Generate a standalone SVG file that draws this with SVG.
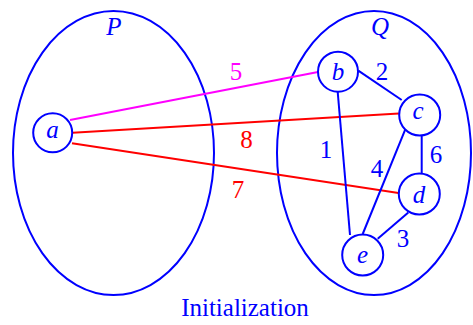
<svg xmlns="http://www.w3.org/2000/svg" width="473" height="325" viewBox="0 0 473 325">
<style>
.set{fill:none;stroke:#0000ff;stroke-width:2}
.node circle{fill:#ffffff;stroke:#0000ff;stroke-width:2}
.lbl{font-family:"Liberation Serif",serif;font-style:italic;font-size:25px;fill:#0000ff;text-anchor:middle}
.w{font-family:"Liberation Serif",serif;font-size:25px;text-anchor:middle}
.blue{fill:#0000ff}.red{fill:#ff0000}.mag{fill:#ff00ff}
.e{stroke-width:2;fill:none}
.eb{stroke:#0000ff}.er{stroke:#ff0000}.em{stroke:#ff00ff}
</style>
<rect width="473" height="325" fill="#ffffff"/>
<g id="setP"><ellipse class="set" cx="113.5" cy="153" rx="100.5" ry="142"/><text class="lbl" x="114" y="35">P</text></g>
<g id="setQ"><ellipse class="set" cx="374" cy="153" rx="97" ry="142"/><text class="lbl" x="380" y="35">Q</text></g>
<g id="connectors">
<line class="e em" x1="70" y1="120" x2="318" y2="72"/>
<line class="e er" x1="72.5" y1="132.7" x2="399" y2="113.5"/>
<line class="e er" x1="72" y1="143.3" x2="398.5" y2="193"/>
<line class="e eb" x1="358.3" y1="70.7" x2="401.7" y2="100"/>
<line class="e eb" x1="337.7" y1="92" x2="350" y2="235"/>
<line class="e eb" x1="405.7" y1="128.3" x2="362.7" y2="234"/>
<line class="e eb" x1="421.7" y1="134" x2="421.7" y2="174"/>
<line class="e eb" x1="408.3" y1="212.5" x2="377.7" y2="238.7"/>
<text class="w mag" x="236" y="80">5</text>
<text class="w red" x="246.5" y="148">8</text>
<text class="w red" x="238" y="198">7</text>
<text class="w blue" x="382" y="80">2</text>
<text class="w blue" x="326" y="158">1</text>
<text class="w blue" x="377" y="177">4</text>
<text class="w blue" x="436" y="163">6</text>
<text class="w blue" x="403" y="247">3</text>
</g>
<g id="node-a" class="node"><circle cx="52.7" cy="132.8" r="19.5"/><text class="lbl" x="52.5" y="138">a</text></g>
<g id="node-b" class="node"><circle cx="338" cy="71.7" r="20"/><text class="lbl" x="338" y="80">b</text></g>
<g id="node-c" class="node"><circle cx="419.7" cy="115" r="20.5"/><text class="lbl" x="418" y="119">c</text></g>
<g id="node-d" class="node"><circle cx="419.3" cy="194" r="20.5"/><text class="lbl" x="419" y="203">d</text></g>
<g id="node-e" class="node"><circle cx="362.7" cy="255" r="20.5"/><text class="lbl" x="362.5" y="263">e</text></g>
<text class="w blue" x="245" y="316">Initialization</text>
</svg>
